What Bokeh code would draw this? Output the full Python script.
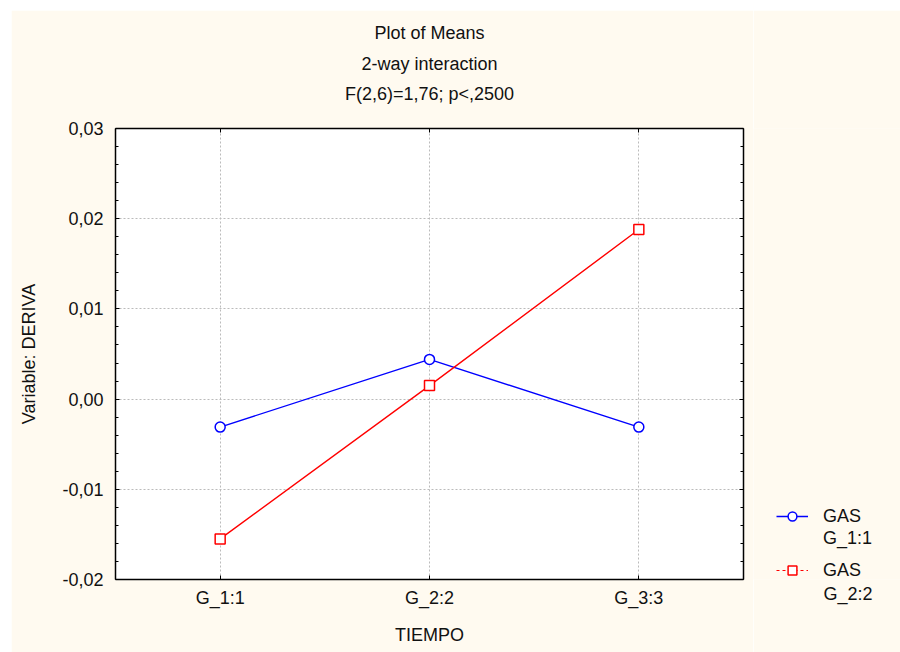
from bokeh.plotting import figure
from bokeh.layouts import row
from bokeh.models import (FactorRange, Range1d, CategoricalAxis, LinearAxis,
                          FixedTicker, Title, Legend, LegendItem,
                          ColumnDataSource)
from bokeh.embed import file_html
from bokeh.resources import INLINE
import numpy as np

# Means of DERIVA for each TIEMPO level, one series per GAS level
tiempo = ["G_1:1", "G_2:2", "G_3:3"]
gas1_means = [-0.0031, 0.0044, -0.0031]
gas2_means = [-0.0155, 0.0015, 0.0188]
gas_factor = "GAS"
gas_levels = ["G_1:1", "G_2:2"]

y_ticks = [-0.02, -0.01, 0.0, 0.01, 0.02, 0.03]
y_tick_labels = ["-0,02", "-0,01", "0,00", "0,01", "0,02", "0,03"]
title_lines = ["Plot of Means", "2-way interaction", "F(2,6)=1,76; p<,2500"]

FONT = "Liberation Sans"
FS = "18px"
BG = "#FFFAF0"
TXT = "#111111"
BLUE = "#0000FF"
RED = "#FF0000"

p = figure(width=742, height=642, title=None,
           x_range=FactorRange(*tiempo), y_range=Range1d(y_ticks[0], y_ticks[-1]),
           output_backend="svg", toolbar_location=None,
           min_border_left=104, min_border_right=10,
           min_border_top=118, min_border_bottom=73,
           background_fill_color="white", border_fill_color=BG,
           outline_line_color=None)

minor = np.linspace(y_ticks[0], y_ticks[-1], 26)
yticker = FixedTicker(ticks=y_ticks, minor_ticks=list(minor))
p.yaxis.ticker = yticker
p.yaxis.major_label_overrides = dict(zip(y_ticks, y_tick_labels))


def style_axis(ax, show_labels=True):
    ax.axis_line_color = "black"
    ax.axis_line_width = 1.5
    ax.major_tick_in = 4
    ax.major_tick_out = 0
    ax.minor_tick_in = 3
    ax.minor_tick_out = 0
    ax.major_tick_line_color = "black"
    ax.minor_tick_line_color = "black"
    ax.major_label_text_font = FONT
    ax.major_label_text_font_size = FS if show_labels else "0px"
    ax.major_label_text_color = TXT
    ax.axis_label_text_font = FONT
    ax.axis_label_text_font_size = FS
    ax.axis_label_text_font_style = "normal"
    ax.axis_label_text_color = TXT


style_axis(p.xaxis[0])
style_axis(p.yaxis[0])
p.xaxis.axis_label = "TIEMPO"
p.xaxis.major_label_standoff = 8
p.xaxis.axis_label_standoff = 14
p.yaxis.axis_label = "Variable: DERIVA"
p.yaxis.major_label_standoff = 12
p.yaxis.axis_label_standoff = 20

# top frame edge; the statistic line of the heading sits on it
top = CategoricalAxis(axis_label=title_lines[2])
style_axis(top, show_labels=False)
top.axis_label_standoff = 25
p.add_layout(top, "above")
right = LinearAxis(ticker=yticker)
style_axis(right, show_labels=False)
p.add_layout(right, "right")

p.xgrid.grid_line_color = "#bbbbbb"
p.xgrid.grid_line_dash = "2 2"
p.ygrid.grid_line_color = "#bbbbbb"
p.ygrid.grid_line_dash = "2 2"
p.ygrid.ticker = FixedTicker(ticks=y_ticks)

# the two GAS series
p.line(tiempo, gas1_means, line_color=BLUE, line_width=1.4)
p.scatter(tiempo, gas1_means, marker="circle", size=10, line_color=BLUE,
          line_width=1.5, fill_color="white")
p.line(tiempo, gas2_means, line_color=RED, line_width=1.4)
p.scatter(tiempo, gas2_means, marker="square", size=10, line_color=RED,
          line_width=1.5, fill_color="white")

# upper heading lines; the second one added sits further from the frame
for line, gap in zip(reversed(title_lines[:2]), [14, 4]):
    p.add_layout(Title(text=line, align="center", text_font=FONT,
                       text_font_size=FS, text_font_style="normal",
                       text_color=TXT, standoff=gap),
                 "above")

# legend strip to the right of the chart
LW, LH = 148, 642
lf = figure(width=LW, height=LH, x_range=Range1d(0, 1), y_range=Range1d(0, 1),
            x_axis_type=None, y_axis_type=None, min_border=0,
            output_backend="svg", toolbar_location=None,
            background_fill_color=BG, border_fill_color=BG,
            outline_line_color=None)
key_src = ColumnDataSource(dict(x=[np.nan], y=[np.nan]))
k1l = lf.line("x", "y", source=key_src, line_color=BLUE, line_width=1.4)
k1m = lf.scatter("x", "y", source=key_src, marker="circle", size=10,
                 line_color=BLUE, line_width=1.5, fill_color="white")
k2l = lf.line("x", "y", source=key_src, line_color=RED, line_width=1.2,
              line_dash="3 3")
k2m = lf.scatter("x", "y", source=key_src, marker="square", size=10,
                 line_color=RED, line_width=1.5, fill_color="white")
blank = lf.line("x", "y", source=key_src, line_alpha=0)

legend_style = dict(orientation="vertical", border_line_color=None,
                    background_fill_alpha=0, padding=0, margin=0, spacing=32,
                    glyph_width=32, glyph_height=22, label_standoff=15,
                    label_text_font=FONT, label_text_font_size=FS,
                    label_text_color=TXT)
# first line of each entry: key glyph and factor name
lf.add_layout(Legend(items=[LegendItem(label=gas_factor, renderers=[k1l, k1m]),
                            LegendItem(label=gas_factor, renderers=[k2l, k2m])],
                     location=(23, -2), **legend_style), "center")
# second line of each entry: factor level
lf.add_layout(Legend(items=[LegendItem(label=gas_levels[0], renderers=[blank])],
                     location=(23, 30), **legend_style), "center")
lf.add_layout(Title(text=gas_levels[1], align="left", offset=70, standoff=4,
                    text_font=FONT, text_font_size=FS, text_font_style="normal",
                    text_color=TXT), "below")

page = row(p, lf, margin=(10, 0, 0, 11))
open("out.html", "w").write(file_html(page, INLINE))
